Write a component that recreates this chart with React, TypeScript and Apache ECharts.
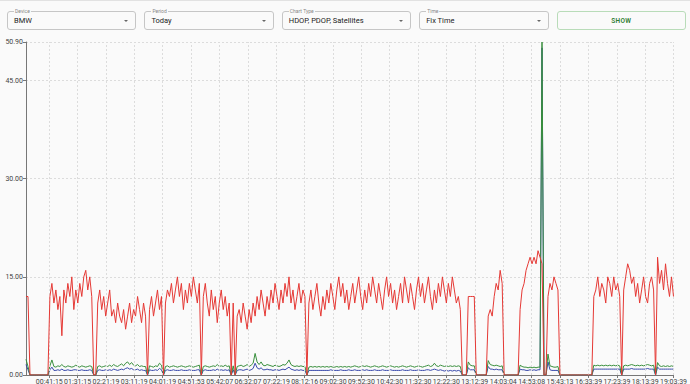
import React, { useEffect, useRef } from 'react';
import * as echarts from 'echarts';

// ---- filter bar content ----
const filterLabels = ['Device', 'Period', 'Chart Type', 'Time'];
const filterValues = ['BMW', 'Today', 'HDOP, PDOP, Satellites', 'Fix Time'];
const buttonLabel = 'SHOW';

// ---- axis content ----
const startTime = '00:00:05';
const endTime = '19:03:39';
const xTickLabels = [
  '00:41:15', '01:31:15', '02:21:19', '03:11:19', '04:01:19', '04:51:53', '05:42:07', '06:32:07',
  '07:22:19', '08:12:16', '09:02:30', '09:52:30', '10:42:30', '11:32:30', '12:22:30', '13:12:39',
  '14:03:04', '14:53:08', '15:43:13', '16:33:39', '17:23:39', '18:13:39', '19:03:39',
];
const yMax = 50.9;
const yInterval = 15;

// ---- series (evenly sampled from start to end) ----
const satellites = [
  12, 12, 0, 0, 0, 0, 0, 0, 0, 0,
  0, 0, 12, 14, 11, 13, 10, 12, 6, 13,
  11, 14, 12, 15, 10, 13, 11, 14, 12, 15,
  16, 13, 15, 12, 0, 0, 11, 13, 10, 12,
  9, 11, 13, 9, 10, 8, 11, 9, 8, 10,
  7, 9, 11, 8, 10, 9, 12, 10, 8, 11,
  9, 0, 10, 12, 9, 11, 13, 10, 12, 0,
  11, 13, 12, 14, 11, 13, 15, 12, 14, 10,
  13, 11, 14, 12, 15, 13, 11, 14, 0, 12,
  14, 11, 9, 13, 10, 12, 8, 11, 13, 10,
  12, 9, 11, 0, 11, 0, 9, 10, 8, 11,
  9, 7, 10, 8, 11, 9, 12, 10, 13, 11,
  9, 12, 10, 13, 11, 14, 12, 10, 13, 11,
  14, 12, 15, 11, 13, 10, 12, 14, 11, 13,
  12, 0, 11, 13, 10, 12, 14, 11, 9, 12,
  10, 13, 11, 14, 12, 10, 13, 15, 12, 14,
  11, 13, 10, 12, 14, 11, 13, 15, 12, 10,
  13, 11, 14, 12, 15, 13, 11, 14, 12, 10,
  13, 15, 12, 14, 11, 13, 10, 12, 14, 11,
  15, 13, 11, 14, 12, 10, 13, 15, 12, 14,
  11, 13, 15, 12, 10, 13, 11, 14, 12, 15,
  13, 11, 14, 12, 15, 13, 11, 12, 10, 0,
  0, 0, 12, 12, 12, 12, 0, 0, 0, 0,
  0, 0, 9, 10, 9, 12, 14, 13, 16, 14,
  0, 0, 0, 0, 0, 0, 0, 0, 10, 13,
  14, 16, 17, 18, 17, 18, 17, 19, 18, 17,
  0, 0, 12, 14, 13, 15, 14, 13, 0, 0,
  0, 0, 0, 0, 0, 0, 0, 0, 0, 0,
  0, 0, 0, 0, 0, 12, 13, 15, 12, 14,
  13, 11, 15, 14, 12, 15, 13, 14, 12, 0,
  13, 15, 17, 16, 14, 15, 12, 14, 11, 13,
  15, 12, 11, 14, 15, 13, 0, 18, 14, 16,
  13, 17, 14, 12, 15, 12,
];

const pdop = [
  2.4, 1.3, 0, 0, 0, 0, 0, 0, 0, 0,
  0, 0, 1.4, 2.3, 1.3, 1.2, 1.4, 1.3, 1.6, 1.3,
  1.2, 1.4, 1.3, 1.2, 1.3, 1.5, 1.3, 1.2, 1.4, 1.3,
  1.2, 1.3, 1.4, 1.3, 0, 0, 1.3, 1.4, 1.2, 1.3,
  1.4, 1.3, 1.5, 1.3, 1.6, 1.4, 1.3, 1.5, 1.7, 1.4,
  1.8, 2.0, 1.6, 1.9, 1.5, 1.4, 1.6, 1.3, 1.4, 1.3,
  1.3, 0, 1.4, 1.3, 1.2, 1.4, 1.3, 1.8, 1.5, 0,
  1.3, 1.4, 1.2, 1.3, 1.4, 1.3, 1.2, 1.3, 1.4, 1.3,
  1.2, 1.3, 1.4, 1.3, 1.2, 1.3, 1.4, 1.5, 0, 1.3,
  1.4, 1.3, 1.2, 1.3, 1.4, 1.3, 1.6, 1.3, 1.4, 1.3,
  1.5, 1.3, 1.4, 0, 1.4, 0, 1.3, 1.4, 1.5, 1.3,
  1.4, 1.6, 1.3, 1.5, 1.8, 3.3, 2.0, 1.6, 2.0, 1.5,
  1.4, 1.6, 1.5, 1.4, 1.3, 1.5, 1.4, 1.3, 1.4, 1.6,
  1.5, 1.8, 2.3, 1.6, 1.4, 1.3, 1.4, 1.3, 1.4, 1.3,
  1.3, 0, 1.2, 1.3, 1.2, 1.3, 1.2, 1.3, 1.2, 1.3,
  1.2, 1.3, 1.2, 1.3, 1.2, 1.2, 1.3, 1.2, 1.3, 1.2,
  1.3, 1.2, 1.3, 1.2, 1.3, 1.4, 1.3, 1.2, 1.3, 1.4,
  1.3, 1.4, 1.3, 1.2, 1.3, 1.4, 1.3, 1.2, 1.3, 1.4,
  1.3, 1.2, 1.3, 1.4, 1.3, 1.2, 1.3, 1.2, 1.3, 1.4,
  1.3, 1.2, 1.3, 1.4, 1.3, 1.2, 1.3, 1.4, 1.3, 1.2,
  1.3, 1.4, 1.5, 1.3, 1.4, 1.8, 1.4, 1.3, 1.5, 1.4,
  1.3, 1.4, 1.3, 1.4, 1.3, 1.4, 1.3, 1.4, 1.3, 0,
  0, 0, 2.0, 1.5, 1.4, 1.4, 0, 0, 0, 0,
  0, 0, 2.2, 1.6, 1.5, 1.4, 1.5, 1.4, 1.3, 1.4,
  0, 0, 0, 0, 0, 0, 0, 0, 1.5, 1.3,
  1.2, 1.2, 1.1, 1.2, 1.1, 1.2, 1.1, 1.2, 1.2, 50.9,
  0, 0, 3.2, 1.4, 1.3, 1.2, 1.2, 1.3, 0, 0,
  0, 0, 0, 0, 0, 0, 0, 0, 0, 0,
  0, 0, 0, 0, 0, 1.5, 1.4, 1.5, 1.4, 1.5,
  1.4, 1.5, 1.4, 1.5, 1.4, 1.5, 1.4, 1.5, 1.4, 0,
  1.4, 1.5, 1.4, 1.5, 1.6, 1.5, 1.4, 1.5, 1.4, 1.5,
  1.4, 1.5, 1.6, 1.5, 1.4, 1.5, 0, 1.9, 1.4, 1.3,
  1.4, 1.3, 1.4, 1.3, 1.4, 1.3,
];

const hdop = [
  1.6, 0.8, 0, 0, 0, 0, 0, 0, 0, 0,
  0, 0, 0.8, 1.2, 0.7, 0.7, 0.8, 0.7, 0.9, 0.7,
  0.7, 0.8, 0.7, 0.7, 0.8, 0.8, 0.7, 0.7, 0.8, 0.7,
  0.7, 0.7, 0.8, 0.7, 0, 0, 0.7, 0.8, 0.7, 0.7,
  0.8, 0.7, 0.8, 0.7, 0.9, 0.8, 0.7, 0.8, 0.9, 0.8,
  1.0, 1.1, 0.9, 1.0, 0.8, 0.8, 0.9, 0.7, 0.8, 0.7,
  0.7, 0, 0.8, 0.7, 0.7, 0.8, 0.7, 1.0, 0.8, 0,
  0.7, 0.8, 0.7, 0.7, 0.8, 0.7, 0.7, 0.7, 0.8, 0.7,
  0.7, 0.7, 0.8, 0.7, 0.7, 0.7, 0.8, 0.8, 0, 0.7,
  0.8, 0.7, 0.7, 0.7, 0.8, 0.7, 0.9, 0.7, 0.8, 0.7,
  0.8, 0.7, 0.8, 0, 0.8, 0, 0.7, 0.8, 0.8, 0.7,
  0.8, 0.9, 0.7, 0.8, 1.0, 1.8, 1.1, 0.9, 1.1, 0.8,
  0.8, 0.9, 0.8, 0.8, 0.7, 0.8, 0.8, 0.7, 0.8, 0.9,
  0.8, 1.0, 1.2, 0.9, 0.8, 0.7, 0.8, 0.7, 0.8, 0.7,
  0.7, 0, 0.7, 0.7, 0.7, 0.7, 0.7, 0.7, 0.7, 0.7,
  0.7, 0.7, 0.7, 0.8, 0.7, 0.7, 0.7, 0.7, 0.8, 0.7,
  0.7, 0.7, 0.8, 0.7, 0.7, 0.8, 0.7, 0.7, 0.7, 0.8,
  0.7, 0.8, 0.7, 0.7, 0.7, 0.8, 0.7, 0.7, 0.7, 0.8,
  0.7, 0.7, 0.7, 0.8, 0.7, 0.7, 0.7, 0.7, 0.7, 0.8,
  0.7, 0.7, 0.7, 0.8, 0.7, 0.7, 0.7, 0.8, 0.7, 0.7,
  0.7, 0.8, 0.8, 0.7, 0.8, 0.9, 0.8, 0.7, 0.8, 0.7,
  0.6, 0.7, 0.6, 0.7, 0.6, 0.7, 0.6, 0.7, 0.6, 0,
  0, 0, 1.1, 0.8, 0.8, 0.8, 0, 0, 0, 0,
  0, 0, 1.3, 0.9, 0.9, 0.8, 0.9, 0.8, 0.8, 0.8,
  0, 0, 0, 0, 0, 0, 0, 0, 0.9, 0.8,
  0.8, 0.7, 0.7, 0.8, 0.7, 0.8, 0.7, 0.8, 0.8, 50.0,
  0, 0, 2.0, 0.8, 0.7, 0.7, 0.7, 0.7, 0, 0,
  0, 0, 0, 0, 0, 0, 0, 0, 0, 0,
  0, 0, 0, 0, 0, 0.9, 0.9, 0.9, 0.9, 0.9,
  0.9, 0.9, 0.9, 0.9, 0.9, 0.9, 0.9, 0.9, 0.9, 0,
  0.9, 0.9, 0.9, 0.9, 1.0, 0.9, 0.9, 0.9, 0.9, 0.9,
  0.9, 0.9, 1.0, 0.9, 0.9, 0.9, 0, 1.2, 0.9, 0.9,
  0.9, 0.9, 0.9, 0.9, 0.9, 0.9,
];

const seriesNames = ['HDOP', 'PDOP', 'Satellites'];
const seriesColors = ['#3949ab', '#388e3c', '#e53935'];

function toSec(s: string): number {
  const [h, m, sec] = s.split(':').map(Number);
  return h * 3600 + m * 60 + sec;
}
function pad(n: number): string {
  return n < 10 ? '0' + n : String(n);
}
function toHMS(v: number): string {
  const t = Math.round(v);
  return pad(Math.floor(t / 3600)) + ':' + pad(Math.floor((t % 3600) / 60)) + ':' + pad(t % 60);
}

const FONT = 'Roboto, "Noto Sans", sans-serif';
const BG = '#fafafa';
const GRID_COLOR = '#dcdcdc';

export default function App() {
  const ref = useRef<HTMLDivElement>(null);

  useEffect(() => {
    if (!ref.current) return;
    const chart = echarts.init(ref.current, null, { renderer: 'svg' });
    const t0 = toSec(startTime);
    const t1 = toSec(endTime);
    const toData = (arr: number[]) => {
      const step = (t1 - t0) / (arr.length - 1);
      return arr.map((v, i) => [t0 + i * step, v]);
    };
    const tickValues = xTickLabels.map(toSec);
    const allSeries = [hdop, pdop, satellites];

    const lineSeries = allSeries.map((arr, k) => ({
      name: seriesNames[k],
      type: 'line',
      data: toData(arr),
      showSymbol: false,
      symbol: 'none',
      lineStyle: { width: 1, color: seriesColors[k] },
      itemStyle: { color: seriesColors[k] },
      z: 3 + k,
    }));

    chart.setOption({
      animation: false,
      backgroundColor: 'transparent',
      textStyle: { fontFamily: FONT },
      grid: { left: 26, right: 15, top: 5, bottom: 10, containLabel: false },
      xAxis: {
        type: 'value',
        min: t0,
        max: t1,
        axisLine: { show: true, lineStyle: { color: '#777', width: 1 } },
        axisTick: { show: true, length: 3, customValues: tickValues, lineStyle: { color: '#777' } },
        axisLabel: {
          customValues: tickValues,
          formatter: (v: number) => toHMS(v),
          fontSize: 7,
          color: '#444',
          margin: 3,
          fontFamily: FONT,
        },
        splitLine: { show: false },
      },
      yAxis: {
        type: 'value',
        min: 0,
        max: yMax,
        interval: yInterval,
        axisLine: { show: true, lineStyle: { color: '#777', width: 1 } },
        axisTick: { show: true, length: 3, lineStyle: { color: '#777' } },
        axisLabel: {
          formatter: (v: number) => v.toFixed(2),
          fontSize: 7,
          color: '#444',
          margin: 3,
          fontFamily: FONT,
        },
        splitLine: { show: true, lineStyle: { color: GRID_COLOR, type: [2, 2], width: 1 } },
      },
      series: [
        {
          name: 'xGrid',
          type: 'line',
          data: [],
          silent: true,
          z: 1,
          markLine: {
            silent: true,
            symbol: 'none',
            label: { show: false },
            animation: false,
            lineStyle: { color: GRID_COLOR, type: [2, 2], width: 1 },
            data: tickValues.map((t) => ({ xAxis: t })),
          },
        },
        ...lineSeries,
      ],
    });
    return () => chart.dispose();
  }, []);

  return (
    <div
      style={{
        position: 'fixed',
        left: 0,
        top: 0,
        width: 690,
        height: 384,
        background: BG,
        overflow: 'hidden',
        fontFamily: FONT,
        borderTop: '1px solid #e2e2e2',
        boxSizing: 'border-box',
      }}
    >
      <div
        style={{
          position: 'absolute',
          left: 0,
          top: 10,
          width: 690,
          height: 19,
          display: 'flex',
          gap: 8,
          padding: '0 4px 0 7px',
          boxSizing: 'border-box',
        }}
      >
        {filterLabels.map((label, i) => (
          <div
            key={label}
            style={{
              flex: 1,
              position: 'relative',
              border: '1px solid #c6c6c6',
              borderRadius: 3,
              boxSizing: 'border-box',
              height: 19,
            }}
          >
            <span
              style={{
                position: 'absolute',
                left: 6,
                top: -4,
                fontSize: 5,
                lineHeight: '6px',
                color: '#888',
                background: BG,
                padding: '0 1px',
              }}
            >
              {label}
            </span>
            <span
              style={{
                position: 'absolute',
                left: 6,
                top: 0,
                lineHeight: '18px',
                fontSize: 7.5,
                color: '#222',
                whiteSpace: 'nowrap',
              }}
            >
              {filterValues[i]}
            </span>
            <span
              style={{
                position: 'absolute',
                right: 7,
                top: 8,
                width: 0,
                height: 0,
                borderLeft: '2.5px solid transparent',
                borderRight: '2.5px solid transparent',
                borderTop: '2.5px solid #666',
              }}
            />
          </div>
        ))}
        <div
          style={{
            flex: 1,
            border: '1px solid #b9dcb9',
            borderRadius: 3,
            boxSizing: 'border-box',
            height: 19,
            display: 'flex',
            alignItems: 'center',
            justifyContent: 'center',
            fontSize: 6.5,
            fontWeight: 600,
            color: '#2e7d32',
            letterSpacing: 0.3,
          }}
        >
          {buttonLabel}
        </div>
      </div>
      <div ref={ref} style={{ position: 'absolute', left: 0, top: 36, width: 690, height: 348 }} />
    </div>
  );
}
